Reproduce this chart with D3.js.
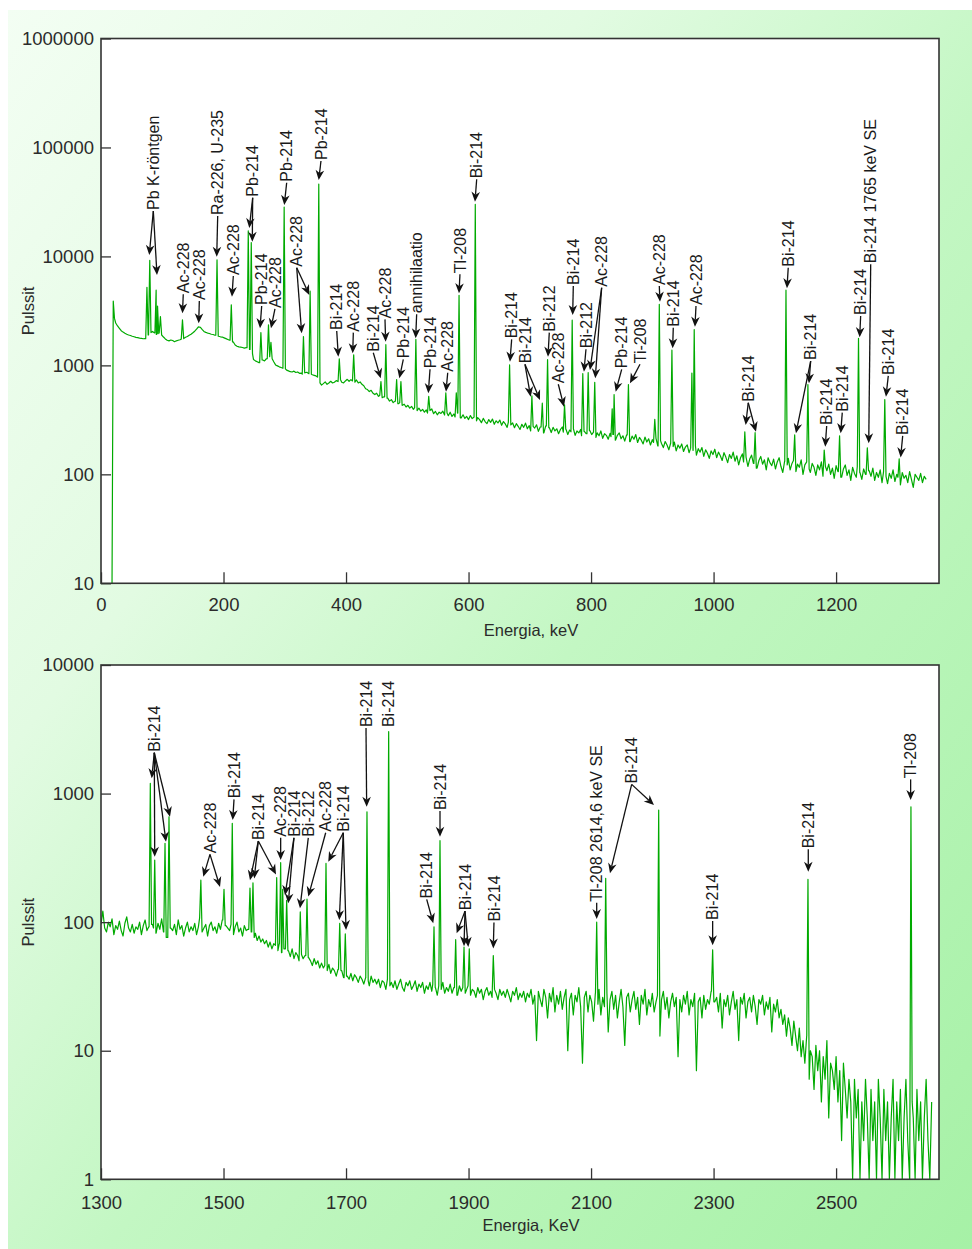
<!DOCTYPE html>
<html lang="fi">
<head>
<meta charset="UTF-8">
<title>Gammaspektri</title>
<script src="https://d3js.org/d3.v7.min.js"></script>
<style>
  body { margin: 0; background: #fff; }
  svg { display: block; }
  .tick text { font-family: "Liberation Sans", Arial, sans-serif; font-size: 18.5px; fill: #2b2b2b; }
  .tick line { stroke: #333; stroke-width: 1.3; }
  .lbl { font-family: "Liberation Sans", Arial, sans-serif; font-size: 16px; fill: #1a1a1a; }
  .title { font-family: "Liberation Sans", Arial, sans-serif; font-size: 16.5px; fill: #2b2b2b; }
</style>
</head>
<body>
<div id="chart"></div>
<script>
// ---- data: upper spectrum (0 - 1370 keV) ----
const topStart = 18, topStep = 3;   // keV of first sample, keV per sample
const topCounts = [
  10, 2700, 2450, 2300, 2190, 2080, 2020, 1970, 1930, 1900,
  1880, 1850, 1830, 1810, 1795, 1780, 1770, 1755, 1760, 1790,
  1900, 2000, 2050, 1990, 1920, 1960, 1990, 1900, 1820, 1750,
  1700, 1680, 1710, 1690, 1650, 1680, 1700, 1720, 1740, 1760,
  1810, 1840, 1890, 1930, 1990, 2060, 2150, 2260, 2240, 2140,
  2050, 2010, 1980, 1960, 1930, 1920, 1890, 1870, 1850, 1830,
  1820, 1790, 1760, 1730, 1700, 1680, 1640, 1540, 1500, 1480,
  1470, 1460, 1440, 1455, 1430, 1400, 1280, 1130, 1100, 1080,
  1060, 1090, 1120, 1100, 1150, 1180, 1200, 1150, 1080, 1010,
  990, 970, 955, 940, 930, 905, 890, 875, 870, 885,
  860, 870, 845, 850, 830, 855, 865, 840, 830, 820,
  810, 800, 780, 690, 660, 680, 705, 670, 690, 715,
  690, 700, 725, 710, 740, 700, 690, 720, 745, 715,
  740, 720, 700, 735, 690, 705, 670, 650, 610, 600,
  575, 590, 555, 540, 555, 520, 530, 505, 515, 490,
  500, 470, 485, 455, 470, 480, 445, 455, 430, 440,
  415, 430, 405, 420, 395, 410, 385, 405, 380, 395,
  372, 390, 365, 385, 398, 360, 378, 352, 372, 362,
  380, 350, 366, 345, 372, 340, 358, 336, 365, 348,
  330, 352, 326, 340, 318, 346, 325, 335, 310, 332,
  318, 298, 326, 305, 292, 318, 300, 322, 288, 310,
  296, 315, 282, 305, 290, 270, 302, 284, 296, 268,
  292, 276, 258, 288, 270, 295, 262, 280, 250, 276,
  266, 285, 248, 272, 258, 240, 278, 255, 268, 242,
  270, 250, 262, 236, 258, 272, 244, 260, 232, 255,
  246, 262, 228, 250, 240, 258, 226, 248, 236, 220,
  252, 232, 244, 218, 240, 226, 250, 214, 236, 228,
  210, 238, 222, 232, 206, 228, 240, 212, 226, 202,
  230, 216, 200, 224, 210, 232, 196, 218, 206, 190,
  220, 198, 212, 186, 208, 196, 214, 182, 204, 192,
  176, 200, 186, 168, 194, 180, 198, 164, 186, 174,
  190, 162, 178, 186, 158, 174, 166, 182, 150, 172,
  160, 176, 146, 168, 156, 140, 164, 152, 170, 142,
  160, 148, 134, 158, 144, 128, 152, 140, 160, 132,
  148, 122, 142, 154, 130, 144, 118, 138, 150, 126,
  140, 114, 134, 146, 124, 136, 110, 142, 128, 120,
  138, 112, 130, 142, 118, 104, 132, 122, 140, 110,
  126, 134, 106, 124, 116, 136, 100, 122, 130, 112,
  104, 126, 116, 98, 122, 110, 130, 96, 118, 108,
  124, 100, 114, 92, 120, 106, 116, 94, 112, 122,
  98, 110, 88, 116, 102, 94, 118, 104, 90, 112,
  100, 86, 108, 96, 114, 88, 104, 94, 110, 84,
  106, 96, 82, 102, 92, 110, 86, 100, 94, 80,
  104, 92, 98, 84, 106, 90, 76, 100, 94, 88,
  102, 84, 96, 90
];
// [keV, counts at peak top]
const topPeaks = [
  [20, 3900], [75, 5200], [79.6, 9200], [90, 4900], [92.3, 3500], [97, 2800],
  [133, 2620], [189.4, 9300], [212.7, 3600], [240.4, 17200], [245.3, 13400],
  [261, 2000], [273.4, 2360], [277.4, 1630], [299, 28400], [330.5, 1840],
  [341.4, 4800], [355.5, 46200], [389, 1150], [412.5, 1250], [457, 710],
  [465, 1550], [482.6, 740], [489.6, 710], [514, 1730], [535, 520],
  [562.9, 560], [580, 560], [584.5, 4400], [611, 30000], [667, 1010],
  [703.4, 525], [720.4, 450], [729, 1130], [756.7, 435], [769.2, 2600],
  [786.5, 840], [795.3, 860], [806, 700], [834.5, 400], [837.6, 540],
  [861, 667], [904, 320], [911.4, 3630], [932, 1380], [964.6, 850],
  [968.4, 2130], [1051, 246], [1067.8, 241], [1118.2, 4900], [1132.4, 230],
  [1154, 667], [1180.6, 167], [1205.7, 226], [1236.6, 1770], [1251, 175],
  [1279.5, 485], [1303, 139]
];

// ---- data: lower spectrum (1300 - 2670 keV) ----
const bottomStart = 1300, bottomStep = 3;
const bottomCounts = [
  96, 122, 90, 84, 100, 92, 106, 80, 94, 88,
  102, 86, 78, 98, 110, 90, 84, 96, 82, 92,
  88, 100, 80, 94, 104, 86, 92, 78, 96, 90,
  82, 98, 88, 106, 84, 92, 76, 100, 90, 86,
  96, 80, 104, 88, 94, 78, 90, 100, 84, 92,
  86, 98, 80, 92, 108, 84, 90, 96, 78, 94,
  100, 86, 92, 82, 98, 88, 104, 84, 94, 90,
  86, 96, 80, 92, 100, 84, 90, 78, 94, 86,
  88, 80, 84, 76, 82, 72, 78, 70, 74, 68,
  72, 64, 70, 62, 68, 66, 60, 68, 58, 64,
  62, 56, 60, 54, 62, 52, 58, 55, 50, 56,
  52, 55, 48, 53, 50, 46, 52, 47, 50, 44,
  48, 44, 46, 42, 47, 40, 44, 42, 38, 43,
  40, 42, 37, 41, 38, 36, 40, 35, 39, 37,
  34, 38, 36, 33, 37, 35, 32, 38, 34, 36,
  33, 36, 31, 35, 34, 30, 36, 32, 34, 31,
  35, 30, 33, 36, 31, 29, 34, 32, 35, 30,
  32, 35, 29, 33, 31, 34, 28, 32, 30, 34,
  29, 33, 31, 27, 32, 30, 34, 28, 31, 29,
  33, 28, 31, 30, 27, 32, 29, 31, 28, 30,
  32, 27, 30, 29, 26, 31, 28, 30, 25, 29,
  31, 27, 29, 26, 30, 28, 25, 30, 27, 29,
  26, 30, 27, 24, 29, 27, 31, 25, 28, 26,
  29, 24, 28, 26, 30, 23, 27, 12, 29, 25,
  22, 30, 26, 18, 28, 24, 31, 20, 27, 23,
  29, 21, 26, 30, 10, 25, 28, 19, 27, 24,
  31, 22, 8, 26, 29, 20, 27, 24, 17, 28,
  23, 30, 19, 26, 22, 28, 14, 25, 29, 21,
  27, 18, 24, 30, 22, 11, 26, 28, 20, 25,
  29, 21, 26, 16, 27, 23, 30, 19, 25, 22,
  28, 20, 24, 27, 13, 25, 29, 21, 26, 18,
  24, 28, 22, 26, 9, 25, 20, 27, 23, 29,
  19, 25, 22, 28, 7, 24, 26, 18, 27, 21,
  25, 23, 29, 17, 24, 26, 20, 28, 15, 25,
  22, 27, 19, 24, 29, 21, 25, 12, 26, 23,
  28, 18, 24, 26, 20, 27, 22, 16, 25, 23,
  27, 19, 24, 21, 26, 14, 23, 20, 25, 18,
  21, 16, 19, 13, 18, 15, 11, 17, 13, 10,
  15, 9, 12, 8, 13, 6, 10, 9, 5, 11,
  7, 10, 4, 9, 6, 12, 3, 8, 7, 5,
  9, 4, 7, 2, 8, 5, 3, 6, 4, 1,
  6, 3, 5, 1, 4, 2, 6, 3, 1, 5,
  2, 4, 1, 6, 3, 1, 5, 2, 4, 1,
  3, 6, 1, 4, 2, 5, 1, 3, 6, 2,
  1, 4, 3, 1, 5, 2, 4, 1, 3, 6,
  2, 1, 4
];
const bottomPeaks = [
  [1380.5, 1200], [1387.7, 304], [1404.5, 410], [1411, 660], [1463, 212],
  [1500.8, 180], [1514.3, 587], [1543.2, 184], [1548.1, 202], [1586.8, 222],
  [1593.3, 290], [1596.6, 180], [1603.1, 148], [1625.3, 120], [1636.3, 151],
  [1667.3, 286], [1689.7, 98], [1698.8, 81], [1734.2, 722], [1769.6, 3030],
  [1843.6, 92], [1853.4, 430], [1879, 73], [1892.6, 64], [1901.2, 62],
  [1940.4, 55], [2109.2, 100], [2123.9, 219], [2210.4, 745], [2298.5, 61],
  [2454.1, 215], [2622.2, 790]
];

// ---- axes ----
const topTicksX = [0, 200, 400, 600, 800, 1000, 1200];
const topTicksY = [10, 100, 1000, 10000, 100000, 1000000];
const bottomTicksX = [1300, 1500, 1700, 1900, 2100, 2300, 2500];
const bottomTicksY = [1, 10, 100, 1000, 10000];

// ---- peak labels: text, label foot (keV, counts), arrow tips ----
const topLabels = [
  {t: "Pb K-röntgen", e: 85.4, c: 26700, to: [[78.8, 10300], [91.4, 6750]]},
  {t: "Ac-228", e: 134.3, c: 4590, to: [[133, 3010]]},
  {t: "Ac-228", e: 160.5, c: 3980, to: [[159.5, 2430]]},
  {t: "Ra-226, U-235", e: 190.5, c: 24000, to: [[188.9, 9930]]},
  {t: "Ac-228", e: 216, c: 6750, to: [[213.8, 4270]]},
  {t: "Pb-214", e: 247.6, c: 35300, to: [[242.1, 18200], [247, 13650]]},
  {t: "Pb-214", e: 262.3, c: 3580, to: [[259.6, 2190]]},
  {t: "Ac-228", e: 284, c: 3370, to: [[277.5, 2190]]},
  {t: "Pb-214", e: 303.1, c: 48500, to: [[299.2, 29600]]},
  {t: "Ac-228", e: 319.5, c: 8050, to: [[327.6, 1970], [340, 4430]]},
  {t: "Pb-214", e: 359.1, c: 76700, to: [[355.4, 50200]]},
  {t: "Bi-214", e: 384.8, c: 2110, to: [[387.4, 1200]]},
  {t: "Ac-228", e: 411.9, c: 2040, to: [[410.9, 1290]]},
  {t: "Bi-214", e: 444.5, c: 1335, to: [[456.6, 760]]},
  {t: "Ac-228", e: 463.6, c: 2700, to: [[464.7, 1650]]},
  {t: "Pb-214", e: 493.5, c: 1160, to: [[487, 760]]},
  {t: "annihilaatio", e: 515.3, c: 3010, to: [[513.7, 1770]]},
  {t: "Pb-214", e: 537.1, c: 940, to: [[534.3, 555]]},
  {t: "Ac-228", e: 566, c: 875, to: [[563.2, 574]]},
  {t: "Tl-208", e: 586, c: 7000, to: [[584.4, 4590]]},
  {t: "Bi-214", e: 613.3, c: 52100, to: [[610.5, 31800]]},
  {t: "Bi-214", e: 670.4, c: 1770, to: [[667.6, 1080]]},
  {t: "Bi-214", e: 692.1, c: 1045, to: [[701.4, 516], [716.6, 481]]},
  {t: "Bi-212", e: 731.8, c: 2040, to: [[729.7, 1200]]},
  {t: "Ac-228", e: 746.5, c: 685, to: [[755.8, 418]]},
  {t: "Bi-214", e: 771, c: 5470, to: [[770, 2900]]},
  {t: "Bi-212", e: 791.7, c: 1435, to: [[788.4, 875]]},
  {t: "Ac-228", e: 817.3, c: 5270, to: [[798.2, 907], [806.9, 760]]},
  {t: "Pb-214", e: 850, c: 940, to: [[840.2, 574]]},
  {t: "Ti-208", e: 879.9, c: 1045, to: [[863.5, 685]]},
  {t: "Ac-228", e: 911.4, c: 5470, to: [[912.5, 3840]]},
  {t: "Bi-214", e: 934.2, c: 2265, to: [[933.2, 1435]]},
  {t: "Ac-228", e: 971.3, c: 3580, to: [[969.6, 2265]]},
  {t: "Bi-214", e: 1056.6, c: 464, to: [[1052.4, 284], [1069.2, 246]]},
  {t: "Bi-214", e: 1121.9, c: 8050, to: [[1119.8, 5100]]},
  {t: "Bi-214", e: 1158.5, c: 1120, to: [[1134.5, 238], [1155.7, 685]]},
  {t: "Bi-214", e: 1184.6, c: 284, to: [[1182.3, 179]]},
  {t: "Bi-214", e: 1210.1, c: 376, to: [[1207.5, 238]]},
  {t: "Bi-214", e: 1240.1, c: 2900, to: [[1238.5, 1810]]},
  {t: "Bi-214 1765 keV SE", e: 1256.5, c: 8650, to: [[1253.3, 193]]},
  {t: "Bi-214", e: 1285.2, c: 817, to: [[1281.4, 516]]},
  {t: "Bi-214", e: 1308.7, c: 230, to: [[1305.4, 143]]}
];
const bottomLabels = [
  {t: "Bi-214", e: 1387, c: 2115, to: [[1382.8, 1313], [1387.7, 323], [1406.1, 422], [1412.6, 660]]},
  {t: "Ac-228", e: 1477.9, c: 343, to: [[1467, 225], [1494.3, 188]]},
  {t: "Bi-214", e: 1517.1, c: 918, to: [[1515, 622]]},
  {t: "Bi-214", e: 1556.8, c: 435, to: [[1543.2, 212], [1550.2, 219], [1585.7, 235]]},
  {t: "Ac-228", e: 1593.3, c: 461, to: [[1593.3, 304]]},
  {t: "Bi-214", e: 1615, c: 461, to: [[1600.4, 162], [1605.7, 140]]},
  {t: "Bi-212", e: 1638.4, c: 461, to: [[1624.8, 128]]},
  {t: "Ac-228", e: 1666.8, c: 505, to: [[1638.4, 158]]},
  {t: "Bi-214", e: 1695.5, c: 505, to: [[1671, 295], [1689, 104], [1700, 87]]},
  {t: "Bi-214", e: 1732.6, c: 3290, to: [[1733.7, 789]]},
  {t: "Bi-214", e: 1769, c: 3290, to: []},
  {t: "Bi-214", e: 1831.7, c: 153, to: [[1842.4, 98]]},
  {t: "Bi-214", e: 1853.4, c: 744, to: [[1853.4, 461]]},
  {t: "Bi-214", e: 1894.2, c: 124, to: [[1880.6, 82], [1892.6, 65], [1899.6, 64]]},
  {t: "Bi-214", e: 1941.5, c: 101, to: [[1940.4, 62.5]]},
  {t: "Tl-208 2614,6 keV SE", e: 2109.2, c: 144, to: [[2109.2, 106]]},
  {t: "Bi-214", e: 2166.3, c: 1200, to: [[2130.9, 240], [2202.7, 814]]},
  {t: "Bi-214", e: 2298.5, c: 104, to: [[2298.5, 66]]},
  {t: "Bi-214", e: 2454.6, c: 375, to: [[2454.6, 247]]},
  {t: "Tl-208", e: 2621.7, c: 1313, to: [[2621.7, 890]]}
];

// ---- drawing ----
const W = 972, H = 1249;
const L = 101, R = 939;

const svg = d3.select("#chart").append("svg")
  .attr("width", W).attr("height", H);

const grad = svg.append("defs").append("linearGradient")
  .attr("id", "bg").attr("x1", 0).attr("y1", 0).attr("x2", 1).attr("y2", 1);
grad.append("stop").attr("offset", "0%").attr("stop-color", "#f3fef3");
grad.append("stop").attr("offset", "30%").attr("stop-color", "#e2fbe2");
grad.append("stop").attr("offset", "55%").attr("stop-color", "#c3f7c3");
grad.append("stop").attr("offset", "100%").attr("stop-color", "#a6f1a6");

svg.append("rect").attr("x", 8).attr("y", 10).attr("width", W - 8).attr("height", H - 10)
  .attr("fill", "url(#bg)");

// merge continuum samples and narrow peaks into one polyline
function buildSpectrum(start, step, counts, peaks, w) {
  const near = e => counts[Math.max(0, Math.min(counts.length - 1, Math.round((e - start) / step)))];
  let pts = counts.map((c, i) => [start + i * step, c, false]);
  peaks.forEach(p => {
    const e = p[0];
    pts = pts.filter(q => q[2] || q[0] <= e - w || q[0] >= e + w);
    pts.push([e - w, near(e - w), true], [e, p[1], true], [e + w, near(e + w), true]);
  });
  return pts.sort((a, b) => a[0] - b[0]);
}

function arrowHead(x1, y1, x2, y2) {
  const a = Math.atan2(y2 - y1, x2 - x1), len = 10, half = 4.3, notch = 7;
  const c = Math.cos(a), s = Math.sin(a);
  const bx = x2 - len * c, by = y2 - len * s;
  const mx = x2 - notch * c, my = y2 - notch * s;
  return {
    d: "M" + x2 + "," + y2 + "L" + (bx - half * s) + "," + (by + half * c) +
       "L" + mx + "," + my + "L" + (bx + half * s) + "," + (by - half * c) + "Z",
    mx: mx, my: my
  };
}

function panel(p) {
  const x = d3.scaleLinear().domain(p.xDomain).range([L, R]);
  const y = d3.scaleLog().domain(p.yDomain).range([p.bottom, p.top]).clamp(true);
  const g = svg.append("g");

  g.append("rect").attr("x", L).attr("y", p.top).attr("width", R - L).attr("height", p.bottom - p.top)
    .attr("fill", "#fff");

  g.append("clipPath").attr("id", p.id).append("rect")
    .attr("x", L).attr("y", p.top).attr("width", R - L).attr("height", p.bottom - p.top);

  const spec = buildSpectrum(p.start, p.step, p.counts, p.peaks, 2);
  const line = d3.line().x(d => x(d[0])).y(d => y(d[1]));
  g.append("path").datum(spec)
    .attr("clip-path", "url(#" + p.id + ")")
    .attr("d", line)
    .attr("fill", "none")
    .attr("stroke", "#00aa00")
    .attr("stroke-width", 1.2)
    .attr("stroke-linejoin", "round");

  // axes with inward ticks
  const ax = g.append("g").attr("transform", "translate(0," + p.bottom + ")")
    .call(d3.axisBottom(x).tickValues(p.ticksX).tickSize(-11).tickPadding(p.xPad).tickFormat(d3.format("d")));
  const ay = g.append("g").attr("transform", "translate(" + L + ",0)")
    .call(d3.axisLeft(y).tickValues(p.ticksY).tickSize(-10).tickPadding(7).tickFormat(d3.format("d")));
  ax.select(".domain").remove();
  ay.select(".domain").remove();
  ax.attr("font-size", null).attr("font-family", null);
  ay.attr("font-size", null).attr("font-family", null);

  g.append("rect").attr("x", L).attr("y", p.top).attr("width", R - L).attr("height", p.bottom - p.top)
    .attr("fill", "none").attr("stroke", "#333").attr("stroke-width", 1.6);

  // peak labels
  const lg = g.append("g");
  p.labels.forEach(l => {
    const lx = x(l.e), ly = y(l.c);
    lg.append("text").attr("class", "lbl")
      .attr("transform", "translate(" + lx + "," + ly + ") rotate(-90)")
      .attr("dy", "0.35em")
      .text(l.t);
    l.to.forEach(t => {
      const tx = x(t[0]), ty = y(t[1]);
      const h = arrowHead(lx, ly + 1, tx, ty);
      lg.append("line").attr("x1", lx).attr("y1", ly + 1).attr("x2", h.mx).attr("y2", h.my)
        .attr("stroke", "#111").attr("stroke-width", 1.3);
      lg.append("path").attr("d", h.d).attr("fill", "#111");
    });
  });

  // axis titles
  g.append("text").attr("class", "title")
    .attr("x", 531).attr("y", p.titleY).attr("text-anchor", "middle")
    .text(p.xTitle);
  g.append("text").attr("class", "title")
    .attr("transform", "translate(28," + ((p.top + p.bottom) / 2) + ") rotate(-90)")
    .attr("text-anchor", "middle").attr("dy", "0.35em")
    .text("Pulssit");
}

panel({
  id: "clipTop", top: 38.5, bottom: 583.3,
  xDomain: [0, 1368], yDomain: [10, 1000000],
  start: topStart, step: topStep, counts: topCounts, peaks: topPeaks,
  ticksX: topTicksX, ticksY: topTicksY, xPad: 15,
  labels: topLabels, xTitle: "Energia, keV", titleY: 636
});

panel({
  id: "clipBottom", top: 665, bottom: 1179.3,
  xDomain: [1300, 2668], yDomain: [1, 10000],
  start: bottomStart, step: bottomStep, counts: bottomCounts, peaks: bottomPeaks,
  ticksX: bottomTicksX, ticksY: bottomTicksY, xPad: 17,
  labels: bottomLabels, xTitle: "Energia, KeV", titleY: 1231
});
</script>
</body>
</html>
